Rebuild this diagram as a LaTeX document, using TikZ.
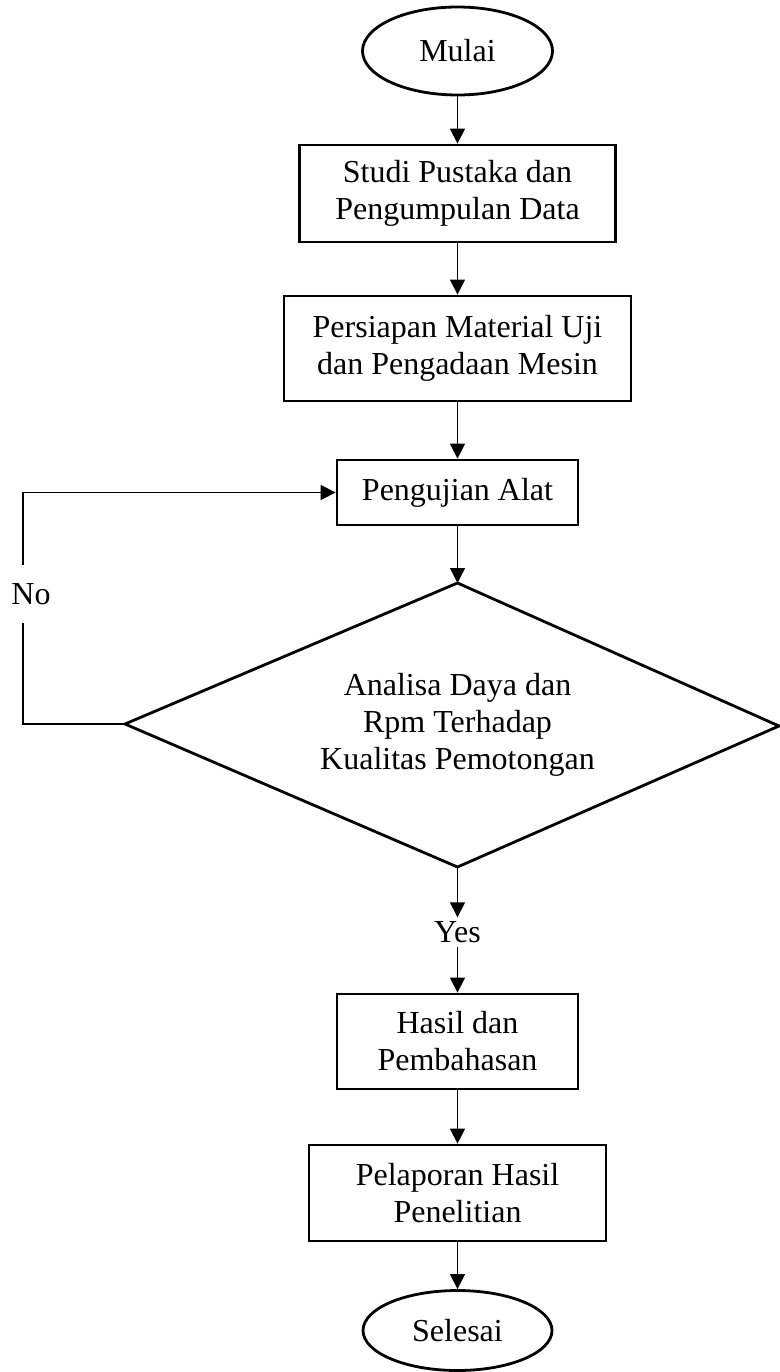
\documentclass[tikz,border=0pt]{standalone}
\usepackage{fontspec}
\setmainfont{Liberation Serif}
\usetikzlibrary{arrows.meta,shapes.geometric}
\begin{document}
\begin{tikzpicture}[x=1pt,y=-1pt,
  every node/.style={font=\fontsize{32}{37}\selectfont, align=center},
  procbox/.style={draw, line width=2.8pt, rectangle, inner sep=0pt},
  term/.style={draw, line width=2.8pt, ellipse, inner sep=0pt},
  conn/.style={line width=1.4pt, -{Triangle[length=15pt,width=15pt]}},
  plainline/.style={line width=1.4pt},
  lbl/.style={inner sep=0pt}
]
\useasboundingbox (0,0) rectangle (779,1372);
\node[term, minimum width=190, minimum height=88] (start) at (457.5,51) {Mulai};
\node[procbox, minimum width=316, minimum height=97] (b1) at (457.5,193.5) {Studi Pustaka dan\\Pengumpulan Data};
\node[procbox, minimum width=347, minimum height=105] (b2) at (457.5,348.5) {Persiapan Material Uji\\dan Pengadaan Mesin};
\node[procbox, minimum width=241, minimum height=65] (b3) at (457.5,492.5) {Pengujian Alat};
\coordinate (dtop) at (457.5,583);
\coordinate (dleft) at (125,724);
\coordinate (dright) at (779,726);
\coordinate (dbot) at (457.5,867);
\draw[line width=2.8pt, line join=miter] (dtop) -- (dright) -- (dbot) -- (dleft) -- cycle;
\node[lbl] (dtext) at (457.5,725) {Analisa Daya dan\\Rpm Terhadap\\Kualitas Pemotongan};
\node[lbl, minimum height=29] (yes) at (457.5,932) {Yes};
\node[lbl, minimum height=58] (no) at (31,594) {No};
\node[procbox, minimum width=241, minimum height=95] (b4) at (457.5,1041.5) {Hasil dan\\Pembahasan};
\node[procbox, minimum width=297, minimum height=96] (b5) at (457.5,1193) {Pelaporan Hasil\\Penelitian};
\node[term, minimum width=189, minimum height=80] (stop) at (457.5,1330.5) {Selesai};
\coordinate (loopB) at (23,724);

\draw[conn] (start.south) -- (b1.north);
\draw[conn] (b1.south) -- (b2.north);
\draw[conn] (b2.south) -- (b3.north);
\draw[conn] (b3.south) -- (dtop);
\draw[conn] (dbot) -- (yes.north);
\draw[conn] (yes.south) -- (b4.north);
\draw[conn] (b4.south) -- (b5.north);
\draw[conn] (b5.south) -- (stop.north);
\draw[plainline] (dleft) -- (loopB) -- (loopB |- no.south);
\draw[conn] (loopB |- no.north) -- (loopB |- b3.west) -- (b3.west);
\end{tikzpicture}
\end{document}
